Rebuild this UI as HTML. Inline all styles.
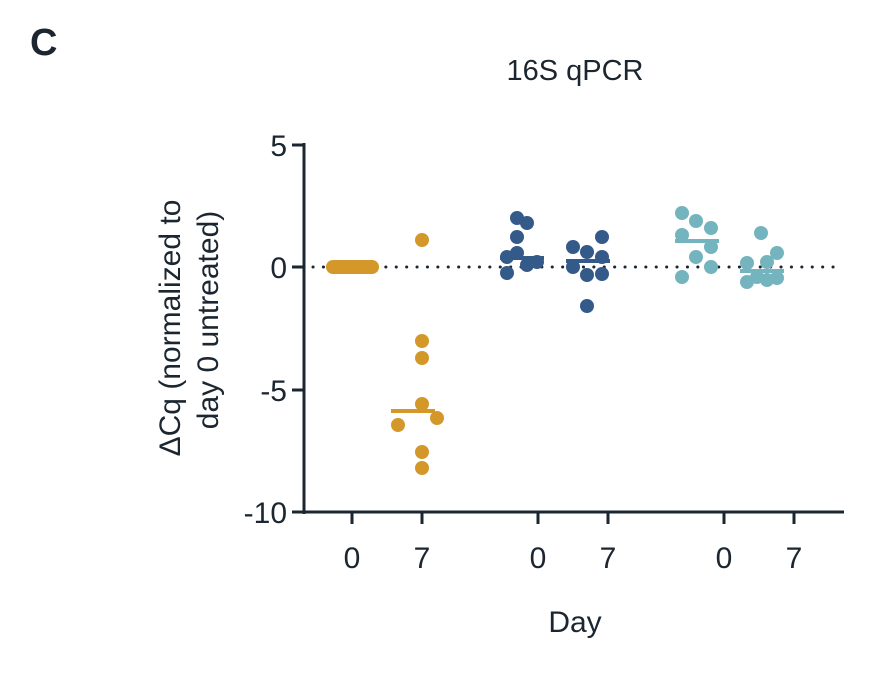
<!DOCTYPE html><html><head><style>body{margin:0;background:#fff}svg{display:block}text{font-family:"Liberation Sans",sans-serif;fill:#1b2630}</style></head><body>
<svg width="875" height="677" viewBox="0 0 875 677">
<text x="30" y="55" font-size="38" font-weight="bold">C</text>
<text x="575" y="80" font-size="29" text-anchor="middle">16S qPCR</text>
<g stroke="#1b2630" stroke-width="3" fill="none">
<line x1="304" y1="143" x2="304" y2="514"/><line x1="302" y1="512" x2="844" y2="512"/>
<line x1="292" y1="145" x2="304" y2="145"/><line x1="292" y1="267" x2="304" y2="267"/><line x1="292" y1="390" x2="304" y2="390"/><line x1="292" y1="512" x2="304" y2="512"/>
<line x1="352" y1="512" x2="352" y2="524"/><line x1="422" y1="512" x2="422" y2="524"/><line x1="538" y1="512" x2="538" y2="524"/><line x1="608" y1="512" x2="608" y2="524"/><line x1="724" y1="512" x2="724" y2="524"/><line x1="794" y1="512" x2="794" y2="524"/>
</g>
<line x1="313" y1="267" x2="840" y2="267" stroke="#1b2630" stroke-width="3" stroke-dasharray="0.1 10.3" stroke-linecap="round"/>
<g font-size="30" text-anchor="end"><text x="287" y="156">5</text><text x="287" y="278">0</text><text x="287" y="401">-5</text><text x="287" y="523">-10</text></g>
<g font-size="30" text-anchor="middle"><text x="352" y="568">0</text><text x="422" y="568">7</text><text x="538" y="568">0</text><text x="608" y="568">7</text><text x="724" y="568">0</text><text x="794" y="568">7</text>
<text x="575" y="632">Day</text></g>
<text transform="translate(180,328) rotate(-90)" font-size="30" text-anchor="middle">ΔCq (normalized to</text>
<text transform="translate(218,320) rotate(-90)" font-size="30" text-anchor="middle">day 0 untreated)</text>
<g fill="#D4982A">
<rect x="326" y="260" width="53" height="14" rx="7"/>
<circle cx="422" cy="240" r="7"/><circle cx="422" cy="341" r="7"/><circle cx="422" cy="358" r="7"/><circle cx="422" cy="404" r="7"/><circle cx="398" cy="425" r="7"/><circle cx="437" cy="418" r="7"/><circle cx="422" cy="452" r="7"/><circle cx="422" cy="468" r="7"/>
<rect x="391" y="409" width="44" height="4"/></g>
<g fill="#345A8A">
<circle cx="517" cy="218" r="7"/><circle cx="527" cy="223" r="7"/><circle cx="517" cy="237" r="7"/><circle cx="507" cy="257" r="7"/><circle cx="517" cy="253" r="7"/><circle cx="527" cy="265" r="7"/><circle cx="537" cy="262" r="7"/><circle cx="507" cy="273" r="7"/>
<rect x="500" y="256" width="44" height="4"/>
<circle cx="573" cy="247" r="7"/><circle cx="602" cy="237" r="7"/><circle cx="587" cy="252" r="7"/><circle cx="602" cy="257" r="7"/><circle cx="573" cy="267" r="7"/><circle cx="587" cy="275" r="7"/><circle cx="602" cy="274" r="7"/><circle cx="587" cy="306" r="7"/>
<rect x="566" y="259" width="44" height="4"/></g>
<g fill="#74B4BE">
<circle cx="682" cy="213" r="7"/><circle cx="696" cy="221" r="7"/><circle cx="711" cy="228" r="7"/><circle cx="682" cy="235" r="7"/><circle cx="711" cy="247" r="7"/><circle cx="696" cy="257" r="7"/><circle cx="711" cy="267" r="7"/><circle cx="682" cy="277" r="7"/>
<rect x="675" y="239" width="44" height="4"/>
<circle cx="761" cy="233" r="7"/><circle cx="777" cy="253" r="7"/><circle cx="767" cy="262" r="7"/><circle cx="747" cy="263" r="7"/><circle cx="747" cy="282" r="7"/><circle cx="767" cy="280" r="7"/><circle cx="777" cy="278" r="7"/><circle cx="757" cy="277" r="7"/>
<rect x="740" y="269" width="44" height="4"/></g>
</svg></body></html>
